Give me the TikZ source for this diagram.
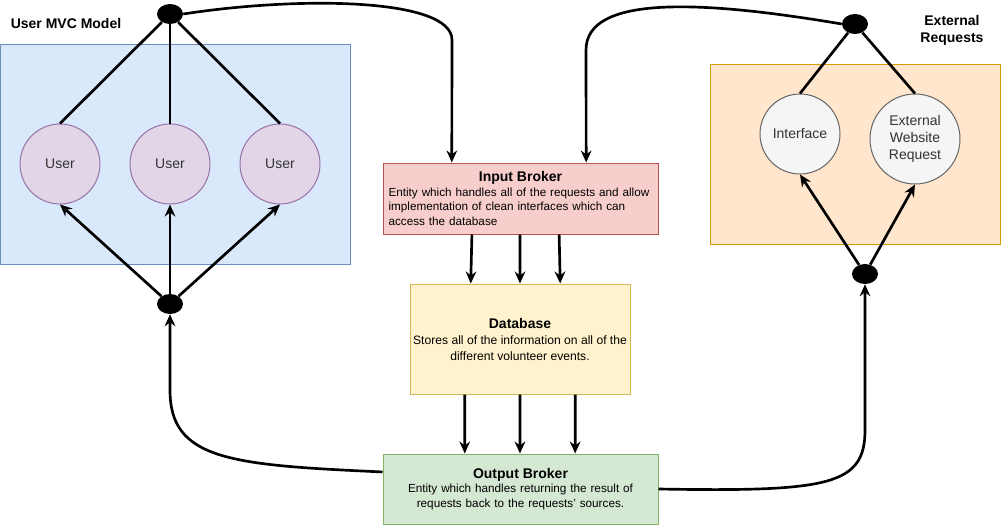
\documentclass[tikz,border=0pt]{standalone}
\usepackage{fontspec}
\setmainfont{Liberation Sans}
\usepackage{tikz}
\usetikzlibrary{calc}
\usetikzlibrary{arrows.meta}
\usetikzlibrary{shapes.geometric}
\definecolor{mvcfill}{HTML}{DAE8FC}
\definecolor{mvcline}{HTML}{6C8EBF}
\definecolor{extfill}{HTML}{FFE6CC}
\definecolor{extline}{HTML}{D79B00}
\definecolor{userfill}{HTML}{E1D5E7}
\definecolor{userline}{HTML}{9673A6}
\definecolor{reqfill}{HTML}{F5F5F5}
\definecolor{reqline}{HTML}{666666}
\definecolor{labelgray}{HTML}{333333}
\definecolor{infill}{HTML}{F8CECC}
\definecolor{inline}{HTML}{B85450}
\definecolor{dbfill}{HTML}{FFF2CC}
\definecolor{dbline}{HTML}{D6B656}
\definecolor{outfill}{HTML}{D5E8D4}
\definecolor{outline}{HTML}{82B366}
\newcommand{\titlefont}{\fontsize{10.5}{12.75}\selectfont\bfseries}
\newcommand{\bodyfont}{\fontsize{8.8}{11}\selectfont}

\tikzset{
  container/.style={draw, line width=0.75pt, inner sep=0pt},
  usernode/.style={circle, draw=userline, fill=userfill, line width=0.75pt, inner sep=0pt,
                   minimum size=80*0.75pt, text=labelgray, font=\fontsize{10.5}{12.75}\selectfont},
  reqnode/.style={circle, draw=reqline, fill=reqfill, line width=0.75pt, inner sep=0pt,
                  text=labelgray, align=center, font=\fontsize{10.5}{12.75}\selectfont},
  junction/.style={ellipse, fill=black, inner sep=0pt,
                   minimum width=26*0.75pt, minimum height=20*0.75pt},
  broker/.style={draw, line width=0.75pt, inner sep=0pt, minimum width=275*0.75pt,
                 text width=264*0.75pt, font=\bodyfont},
  link/.style={line width=2pt},
  flow/.style={link, -{Stealth[length=9pt, width=8pt, inset=3pt]}}
}

\begin{document}
\begin{tikzpicture}[x=0.75pt, y=-0.75pt]
            \useasboundingbox (0,0) rectangle (1001,525);
            % Containers
            \node[container, fill=mvcfill, draw=mvcline, minimum width=350*0.75pt, minimum height=220*0.75pt]
                 (mvcbox) at (175,154) {};
            \node[container, fill=extfill, draw=extline, minimum width=290*0.75pt, minimum height=180*0.75pt]
                 (extbox) at (855,154) {};
            \node[font=\titlefont] (mvclabel) at (66,23) {User MVC Model};
            \node[font=\titlefont, align=center] (extlabel) at (952,30) {External\\Requests};
            % Users
            \node[usernode] (user1) at ( 60,164) {User};
            \node[usernode] (user2) at (170,164) {User};
            \node[usernode] (user3) at (280,164) {User};
            % External requests
            \node[reqnode, minimum size=80*0.75pt] (iface)  at (800,134) {Interface};
            \node[reqnode, minimum size=90*0.75pt] (extreq) at (915,139) {External\\Website\\Request};
            % Junctions
            \node[junction] (mvctop) at (170, 14) {};
            \node[junction] (mvcbot) at (170,304) {};
            \node[junction] (exttop) at (855, 24) {};
            \node[junction] (extbot) at (865,274) {};
            % Brokers and database
            \node[broker, fill=infill, draw=inline, minimum height=71*0.75pt] (inbroker) at (520.5,198.5)
                 {{\centering\titlefont Input Broker\par}\raggedright
                  Entity which handles all of the requests and allow\\
                  implementation of clean interfaces which can\\
                  access the database};
            \node[draw=dbline, fill=dbfill, line width=0.75pt, inner sep=0pt, minimum width=220*0.75pt,
                  minimum height=110*0.75pt, align=center, font=\fontsize{9.1}{12}\selectfont]
                 (database) at (520,339)
                 {{\titlefont Database}\\Stores all of the information on all of the\\different volunteer events.};
            \node[broker, fill=outfill, draw=outline, minimum height=70*0.75pt, align=center] (outbroker) at (520.5,489)
                 {{\titlefont Output Broker}\\Entity which handles returning the result of\\requests back to the requests' sources.};
            % Fan out
            \foreach \u in {user1,user2,user3} {
              \draw[link] (mvctop) -- (\u.north);
              \draw[flow] (mvcbot) -- (\u.south);
            }
            \foreach \u in {iface,extreq} {
              \draw[link] (exttop) -- (\u.north);
              \draw[flow] (extbot) -- (\u.south);
            }
            % Broker flow
            \foreach \a/\b in {0.324/0.277, 0.498/0.5, 0.64/0.682}
              \draw[flow] ($(inbroker.south west)!\a!(inbroker.south east)$) -- ($(database.north west)!\b!(database.north east)$);
            \foreach \a/\b in {0.25/0.298, 0.5/0.498, 0.75/0.698}
              \draw[flow] ($(database.south west)!\a!(database.south east)$) -- ($(outbroker.north west)!\b!(outbroker.north east)$);
            % Loops round the outside
            \draw[flow] (mvctop.east) .. controls (300,-4) and (452,-2) .. (452,40)
                 -- ($(inbroker.north west)!0.251!(inbroker.north east)$);
            \draw[flow] (exttop.west) .. controls (700,0) and (586,-5) .. (586,50)
                 -- ($(inbroker.north west)!0.738!(inbroker.north east)$);
            \draw[flow] ($(outbroker.north west)!0.26!(outbroker.south west)$) .. controls (230,465) and (170,460) .. (170,390)
                 -- (mvcbot.south);
            \draw[flow] (outbroker.east) .. controls (830,492) and (865,485) .. (865,430)
                 -- (extbot.south);
\end{tikzpicture}
\end{document}
